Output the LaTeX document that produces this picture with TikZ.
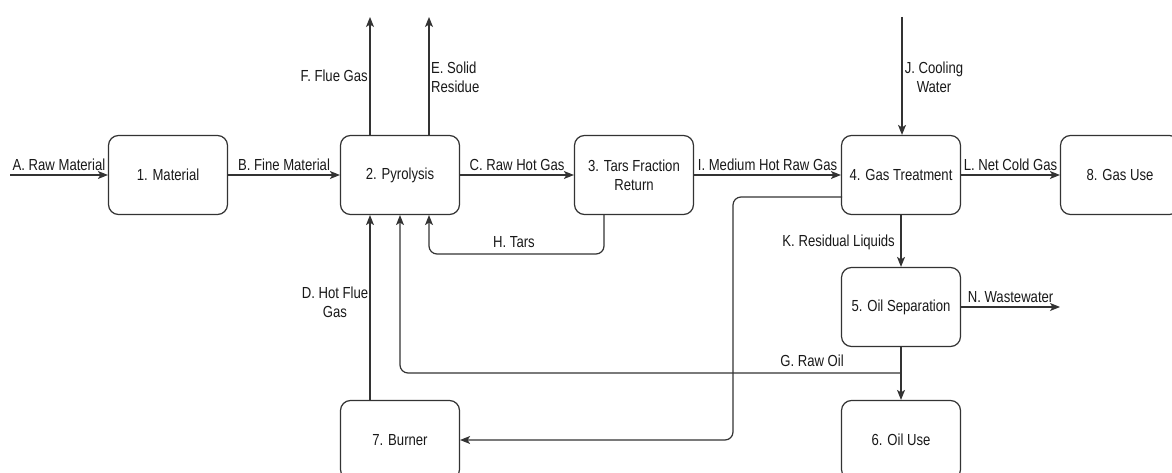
\documentclass[tikz,border=0pt]{standalone}
\usepackage{fontspec}
\setmainfont[FakeStretch=0.82]{Liberation Sans}
\usetikzlibrary{arrows.meta}
\begin{document}
\begin{tikzpicture}[x=1pt,y=-1pt,
  box/.style={draw=black!80,line width=1.2pt,rounded corners=10pt,minimum width=119pt,minimum height=79pt,align=center,font=\fontsize{16}{19}\selectfont,text=black!90},
  flow/.style={draw=black!80,line width=1.2pt,-{Stealth[length=10pt,width=8pt,inset=2.5pt]}},
  lbl/.style={font=\fontsize{16}{19}\selectfont,text=black!90,inner sep=1pt,align=center}]
\useasboundingbox (0,0) rectangle (1172,473);
\fill[white] (0,0) rectangle (1172,473);
% boxes
\node[box] (m1) at (168,175) {1. Material};
\node[box] (m2) at (400,175) {2. Pyrolysis};
\node[box] (m3) at (634,175) {3. Tars Fraction\\Return};
\node[box] (m4) at (901,175) {4. Gas Treatment};
\node[box] (m8) at (1120,175) {8. Gas Use};
\node[box] (m5) at (901,307) {5. Oil Separation};
\node[box] (m6) at (901,440) {6. Oil Use};
\node[box] (m7) at (400,440) {7. Burner};
% free ends
\coordinate (a0) at (10,175);
\coordinate (fTop) at (370,17);
\coordinate (eTop) at (429,17);
\coordinate (jTop) at (902,17);
\coordinate (nEnd) at (1060,307);
\coordinate (hDown) at (604,254);
\coordinate (gJoin) at (901,373);
% main line
\draw[flow] (a0) -- (m1) node[lbl,midway,above=3pt] (la) {A. Raw Material};
\draw[flow] (m1) -- (m2) node[lbl,midway,above=3pt] (lb) {B. Fine Material};
\draw[flow] (m2) -- (m3) node[lbl,midway,above=3pt] (lc) {C. Raw Hot Gas};
\draw[flow] (m3) -- (m4) node[lbl,midway,above=3pt] (li) {I. Medium Hot Raw Gas};
\draw[flow] (m4) -- (m8) node[lbl,midway,above=3pt] (ll) {L. Net Cold Gas};
% outputs of pyrolysis
\draw[flow] (m2.north -| fTop) -- (fTop);
\node[lbl,anchor=east] (lf) at (369,76) {F. Flue Gas};
\draw[flow] (m2.north -| eTop) -- (eTop);
\node[lbl,anchor=west,align=left] (le) at (430,77) {E. Solid\\Residue};
% cooling water
\draw[flow] (jTop) -- (m4.north -| jTop);
\node[lbl] (lj) at (934,77) {J. Cooling\\Water};
% tars return
\draw[flow,rounded corners=8pt] (m3.south -| hDown) -- (hDown) -- (hDown -| eTop) -- (m2.south -| eTop);
\node[lbl] (lh) at (514,242) {H. Tars};
% residual liquids
\draw[flow] (m4) -- (m5);
\node[lbl,anchor=east] (lk) at (896,242) {K. Residual Liquids};
% wastewater
\draw[flow] (m5) -- (nEnd) node[lbl,midway,above=3pt] (ln) {N. Wastewater};
% raw oil
\draw[flow] (m5) -- (m6);
\draw[flow,rounded corners=8pt] (gJoin) -- (gJoin -| m2) -- (m2);
\node[lbl] (lg) at (812,361) {G. Raw Oil};
% hot flue gas
\draw[flow] (m7.north -| fTop) -- (m2.south -| fTop);
\node[lbl] (ld) at (335,302) {D. Hot Flue\\Gas};
% gas to burner
\coordinate (bA) at (960,197);
\coordinate (bB) at (733,197);
\coordinate (bC) at (733,440);
\draw[flow,rounded corners=8pt] (m4.east |- bA) ++(-119,0) -- (bB) -- (bC) -- (m7);
\end{tikzpicture}
\end{document}
